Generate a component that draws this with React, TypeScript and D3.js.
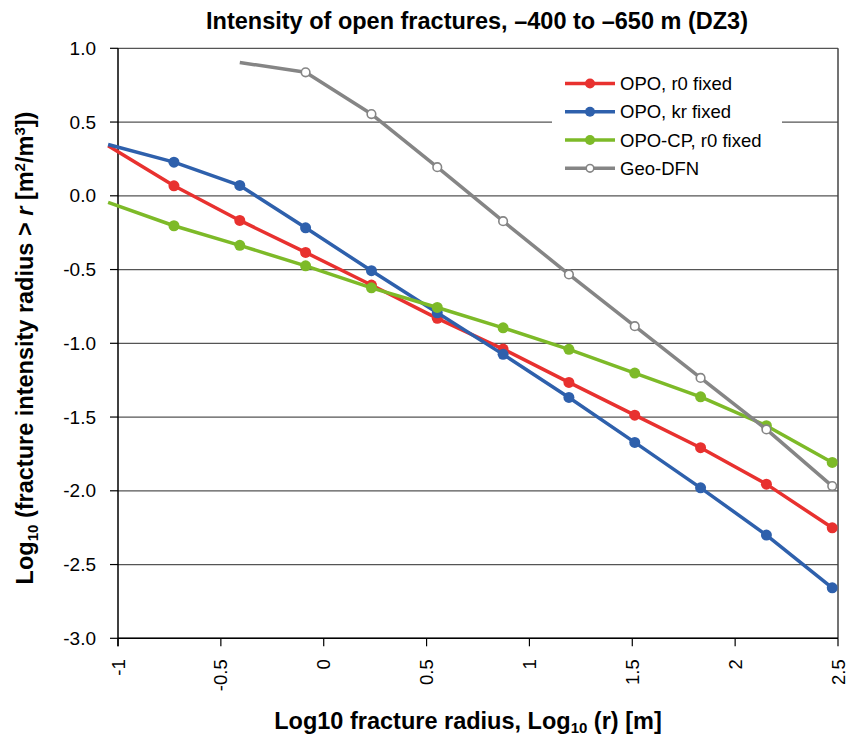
import React from "react";
import * as d3 from "d3";

const W = 850;
const H = 738;

// log10 radius of each bin (first bin lies just left of the axis)
const radii = [-1.048, -0.728, -0.408, -0.088, 0.232, 0.552, 0.872, 1.192, 1.512, 1.832, 2.152, 2.472];

const opoR0 = [0.34, 0.068, -0.167, -0.384, -0.605, -0.831, -1.039, -1.265, -1.487, -1.708, -1.955, -2.251];
const opoKr = [0.348, 0.228, 0.07, -0.217, -0.508, -0.793, -1.075, -1.367, -1.672, -1.98, -2.3, -2.658];
const opoCp = [-0.045, -0.203, -0.336, -0.475, -0.624, -0.757, -0.895, -1.041, -1.202, -1.363, -1.559, -1.808];
const geoDfn = [null, null, 0.904, 0.837, 0.554, 0.194, -0.172, -0.533, -0.884, -1.235, -1.584, -1.968];

const xTicks = [-1, -0.5, 0, 0.5, 1, 1.5, 2, 2.5];
const xTickLabels = ["-1", "-0.5", "0", "0.5", "1", "1.5", "2", "2.5"];
const yTicks = [1, 0.5, 0, -0.5, -1, -1.5, -2, -2.5, -3];
const yTickLabels = ["1.0", "0.5", "0.0", "-0.5", "-1.0", "-1.5", "-2.0", "-2.5", "-3.0"];

type Series = { name: string; values: (number | null)[]; color: string; hollow: boolean };

const series: Series[] = [
  { name: "OPO, r0 fixed", values: opoR0, color: "#E8312F", hollow: false },
  { name: "OPO, kr fixed", values: opoKr, color: "#2E60AC", hollow: false },
  { name: "OPO-CP, r0 fixed", values: opoCp, color: "#7DBA28", hollow: false },
  { name: "Geo-DFN", values: geoDfn, color: "#858585", hollow: true },
];

const FONT = "'Liberation Sans', Arial, sans-serif";

export default function App() {
  const left = 118;
  const right = 838;
  const top = 48.3;
  const bottom = 638.3;
  const x = d3.scaleLinear().domain([-1, 2.5]).range([left, right]);
  const y = d3.scaleLinear().domain([-3, 1]).range([bottom, top]);

  const line = d3
    .line<[number, number | null]>()
    .defined((d) => d[1] !== null)
    .x((d) => x(d[0]))
    .y((d) => y(d[1] as number));

  const legendX = 565;
  const legendY = [83.5, 111.8, 140, 168.3];

  return (
    <svg
      width={W}
      height={H}
      style={{ position: "absolute", left: 0, top: 0, background: "#fff" }}
      fontFamily={FONT}
    >
      <rect width={W} height={H} fill="#fff" />
      <text x={477} y={28.5} textAnchor="middle" fontSize={23.5} fontWeight="bold" fill="#000">
        Intensity of open fractures, –400 to –650 m (DZ3)
      </text>

      {/* horizontal gridlines */}
      {yTicks.map((t) => (
        <line key={t} x1={left} x2={right} y1={y(t)} y2={y(t)} stroke="#555" strokeWidth={1.2} />
      ))}
      {/* plot frame */}
      <line x1={right} x2={right} y1={top} y2={bottom} stroke="#444" strokeWidth={1.5} />
      <line x1={left} x2={left} y1={top} y2={bottom + 8} stroke="#000" strokeWidth={1.5} />
      <line x1={left} x2={right} y1={bottom} y2={bottom} stroke="#000" strokeWidth={1.5} />

      {/* y ticks */}
      {yTicks.map((t, i) => (
        <g key={t}>
          <line x1={left - 8} x2={left} y1={y(t)} y2={y(t)} stroke="#000" strokeWidth={1.2} />
          <text x={96} y={y(t) + 6.5} textAnchor="end" fontSize={19} fill="#000">
            {yTickLabels[i]}
          </text>
        </g>
      ))}
      {/* x ticks */}
      {xTicks.map((t, i) => (
        <g key={t}>
          <line x1={x(t)} x2={x(t)} y1={bottom} y2={bottom + 8} stroke="#000" strokeWidth={1.2} />
          <text
            transform={`translate(${x(t) + 6.5},${bottom + 21}) rotate(-90)`}
            textAnchor="end"
            fontSize={18.5}
            fill="#000"
          >
            {xTickLabels[i]}
          </text>
        </g>
      ))}

      {/* legend */}
      <rect x={552} y={66} width={230} height={116} fill="#fff" />
      {series.map((s, i) => (
        <g key={s.name}>
          <line
            x1={legendX}
            x2={legendX + 50}
            y1={legendY[i]}
            y2={legendY[i]}
            stroke={s.color}
            strokeWidth={3.5}
          />
          <circle
            cx={legendX + 25}
            cy={legendY[i]}
            r={s.hollow ? 3.8 : 5}
            fill={s.hollow ? "#fff" : s.color}
            stroke={s.color}
            strokeWidth={s.hollow ? 1.6 : 0}
          />
          <text x={legendX + 55} y={legendY[i] + 6.5} fontSize={18.5} fill="#000">
            {s.name}
          </text>
        </g>
      ))}

      {/* series */}
      {series.map((s) => {
        const pts = radii.map((r, i) => [r, s.values[i]] as [number, number | null]);
        return (
          <g key={s.name}>
            <path d={line(pts) ?? ""} fill="none" stroke={s.color} strokeWidth={3.5} strokeLinejoin="round" />
            {pts.map((p, i) => {
              if (p[1] === null || i === 0 || (s.hollow && i === 2)) return null;
              return (
                <circle
                  key={i}
                  cx={x(p[0])}
                  cy={y(p[1])}
                  r={s.hollow ? 4.3 : 5.5}
                  fill={s.hollow ? "#fff" : s.color}
                  stroke={s.hollow ? s.color : "none"}
                  strokeWidth={1.6}
                />
              );
            })}
          </g>
        );
      })}

      {/* axis titles */}
      <text x={468} y={729} textAnchor="middle" fontSize={23.5} fontWeight="bold" fill="#000">
        Log10 fracture radius, Log
        <tspan fontSize={15} dy={4}>10</tspan>
        <tspan dy={-4}> (r) [m]</tspan>
      </text>
      <text
        transform="translate(33,348) rotate(-90)"
        textAnchor="middle"
        fontSize={23.5}
        fontWeight="bold"
        fill="#000"
      >
        Log
        <tspan fontSize={15} dy={5}>10</tspan>
        <tspan dy={-5}> (fracture intensity radius &gt; </tspan>
        <tspan fontStyle="italic">r</tspan>
        <tspan> [m</tspan>
        <tspan fontSize={15} dy={-8}>2</tspan>
        <tspan dy={8}>/m</tspan>
        <tspan fontSize={15} dy={-8}>3</tspan>
        <tspan dy={8}>])</tspan>
      </text>
    </svg>
  );
}
